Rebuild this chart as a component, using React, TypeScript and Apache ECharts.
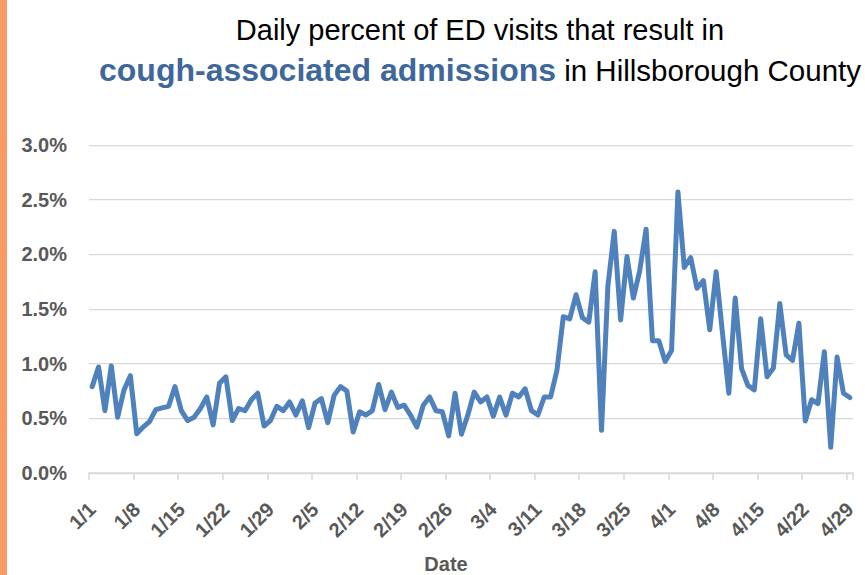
import { useEffect, useRef } from 'react';
import * as echarts from 'echarts';

// Categories: daily dates 1/1 .. 4/29 (2020, leap year)
const monthNumbers = [1, 2, 3, 4];
const monthLengths = [31, 29, 31, 29];
const dateLabels: string[] = [];
monthNumbers.forEach((m, k) => {
  for (let d = 1; d <= monthLengths[k]; d++) dateLabels.push(`${m}/${d}`);
});

// Daily percent of ED visits resulting in cough-associated admissions (%)
const percentValues = [
  0.79, 0.97, 0.57, 0.98, 0.51, 0.76, 0.89, 0.36, 0.42, 0.47,
  0.58, 0.595, 0.61, 0.79, 0.57, 0.48, 0.51, 0.59, 0.695, 0.44,
  0.82, 0.88, 0.48, 0.59, 0.57, 0.67, 0.73, 0.43, 0.48, 0.61,
  0.57, 0.65, 0.53, 0.66, 0.415, 0.64, 0.68, 0.46, 0.71, 0.79,
  0.75, 0.375, 0.56, 0.53, 0.57, 0.81, 0.58, 0.74, 0.6, 0.62,
  0.53, 0.42, 0.62, 0.695, 0.57, 0.56, 0.34, 0.73, 0.355, 0.53,
  0.74, 0.65, 0.695, 0.52, 0.695, 0.53, 0.73, 0.695, 0.77, 0.57,
  0.53, 0.695, 0.695, 0.94, 1.43, 1.41, 1.63, 1.42, 1.38, 1.84,
  0.39, 1.71, 2.21, 1.4, 1.98, 1.6, 1.85, 2.23, 1.21, 1.21,
  1.02, 1.12, 2.57, 1.88, 1.97, 1.69, 1.76, 1.31, 1.84, 1.28,
  0.73, 1.6, 0.955, 0.8, 0.76, 1.41, 0.88, 0.96, 1.55, 1.08,
  1.03, 1.37, 0.476, 0.67, 0.635, 1.11, 0.235, 1.06, 0.73, 0.69,
];

const yMin = 0;
const yMax = 3;
const yStep = 0.5;

const titleLine1 = 'Daily percent of ED visits that result in';
const titleBold = 'cough-associated admissions';
const titleRest = ' in Hillsborough County';
const xAxisTitle = 'Date';

const FONT = '"Liberation Sans", Arial, Helvetica, sans-serif';

export default function App() {
  const ref = useRef<HTMLDivElement>(null);
  useEffect(() => {
    const chart = echarts.init(ref.current!, null, { renderer: 'svg' });
    chart.setOption({
      animation: false,
      backgroundColor: '#ffffff',
      grid: { left: 89, right: 12, top: 145, bottom: 102, containLabel: false },
      xAxis: {
        type: 'category',
        data: dateLabels,
        boundaryGap: true,
        axisLine: { show: true, lineStyle: { color: '#D9D9D9', width: 1.5 } },
        axisTick: { show: true, interval: 6, length: 7, lineStyle: { color: '#D9D9D9', width: 1.5 } },
        axisLabel: {
          interval: 6,
          rotate: 45,
          margin: 33,
          color: '#595959',
          fontSize: 20,
          fontWeight: 'bold',
          fontFamily: FONT,
        },
        splitLine: { show: false },
      },
      yAxis: {
        type: 'value',
        min: yMin,
        max: yMax,
        interval: yStep,
        axisLine: { show: false },
        axisTick: { show: false },
        axisLabel: {
          formatter: (v: number) => v.toFixed(1) + '%',
          color: '#595959',
          fontSize: 20,
          fontWeight: 'bold',
          fontFamily: FONT,
          margin: 22,
        },
        splitLine: { show: true, lineStyle: { color: '#D9D9D9', width: 1.25 } },
      },
      series: [
        {
          type: 'line',
          data: percentValues,
          showSymbol: false,
          symbol: 'none',
          lineStyle: { color: '#4F81BD', width: 5, cap: 'round', join: 'round' },
          itemStyle: { color: '#4F81BD' },
        },
      ],
      graphic: [
        {
          type: 'rect',
          x: 0,
          y: 0,
          shape: { x: 0, y: 0, width: 7, height: 575 },
          style: { fill: '#FA9A64' },
        },
        {
          type: 'text',
          x: 480,
          y: 30,
          style: {
            text: titleLine1,
            fontSize: 29,
            fontFamily: FONT,
            fill: '#000000',
            align: 'center',
            verticalAlign: 'middle',
            textAlign: 'center',
            textVerticalAlign: 'middle',
          },
        },
        {
          type: 'text',
          x: 480,
          y: 70,
          style: {
            text: `{b|${titleBold}}{n|${titleRest}}`,
            align: 'center',
            verticalAlign: 'middle',
            textAlign: 'center',
            textVerticalAlign: 'middle',
            rich: {
              b: { fontSize: 32, fontWeight: 'bold', fill: '#3E679B', fontFamily: FONT },
              n: { fontSize: 29.5, fill: '#000000', fontFamily: FONT },
            },
          },
        },
        {
          type: 'text',
          x: 446,
          y: 564,
          style: {
            text: xAxisTitle,
            fontSize: 20,
            fontWeight: 'bold',
            fontFamily: FONT,
            fill: '#595959',
            align: 'center',
            verticalAlign: 'middle',
            textAlign: 'center',
            textVerticalAlign: 'middle',
          },
        },
      ],
    });
    return () => chart.dispose();
  }, []);
  return (
    <div
      ref={ref}
      style={{ position: 'fixed', left: 0, top: 0, width: 865, height: 575, background: '#ffffff' }}
    />
  );
}
